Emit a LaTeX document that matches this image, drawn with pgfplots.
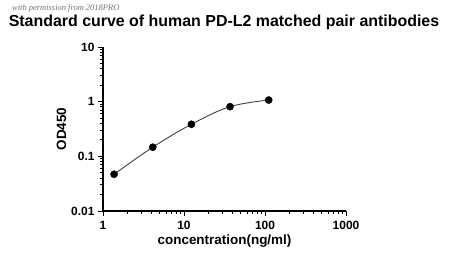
\documentclass[border=0pt]{standalone}
\usepackage{pgfplots}
\pgfplotsset{compat=1.18}
\usepackage{fontspec}
\setmainfont{Liberation Sans}
\newfontfamily\wmfont{Liberation Serif}
\begin{document}
\begin{tikzpicture}
\path[use as bounding box] (0,0) rectangle (450bp,266bp);
\node[font=\bfseries\fontsize{16}{18}\selectfont, anchor=center, inner sep=0pt] at (224bp,244bp) {Standard curve of human PD-L2 matched pair antibodies};
\node[font=\wmfont\itshape\fontsize{8.5}{9}\selectfont, text=black!55, anchor=west, inner sep=0pt] at (12bp,258bp) {with permission from 2018PRO};
\begin{axis}[
  at={(103bp,55bp)}, anchor=south west,
  scale only axis, width=243bp, height=164bp,
  xmode=log, ymode=log,
  xmin=1, xmax=1000, ymin=0.01, ymax=10,
  axis x line*=bottom, axis y line*=left,
  axis line style={line width=1.4bp},
  tick style={line width=1bp, black},
  tick align=outside,
  major tick length=5bp, minor tick length=3bp,
  xtick={1,10,100,1000}, xticklabels={1,10,100,1000},
  ytick={0.01,0.1,1,10}, yticklabels={0.01,0.1,1,10},
  ticklabel style={font=\bfseries\fontsize{12}{13}\selectfont},
  xticklabel style={yshift=-2bp},
  xlabel={concentration(ng/ml)},
  ylabel={OD450},
  label style={font=\bfseries\fontsize{13.5}{15}\selectfont},
  xlabel style={yshift=2bp},
  ylabel style={yshift=-2bp},
  clip=false,
]
\addplot[black!75, line width=0.9bp, smooth, tension=0.6, no marks] coordinates {
 (1.37,0.047) (4.12,0.147) (12.35,0.386) (37.04,0.81) (111.1,1.07)};
\addplot[only marks, mark=*, mark size=3.6bp, black] coordinates {
 (1.37,0.047) (4.12,0.147) (12.35,0.386) (37.04,0.81) (111.1,1.07)};
\end{axis}
\end{tikzpicture}
\end{document}
